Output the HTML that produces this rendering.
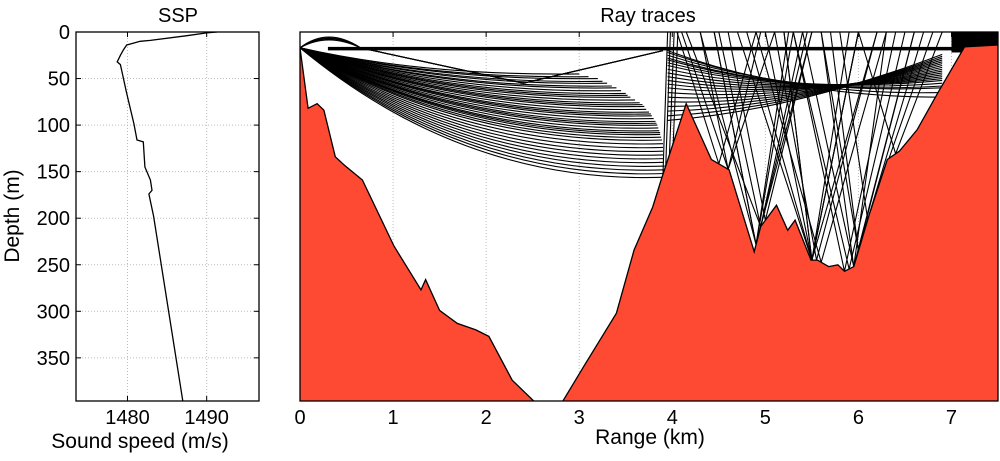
<!DOCTYPE html>
<html><head><meta charset="utf-8">
<style>
body{margin:0;background:#fff;overflow:hidden;}
svg{display:block;font-family:"Liberation Sans",Arial,sans-serif;}
</style></head>
<body>
<svg id="fig" width="1000" height="461" viewBox="0 0 1000 461">
<defs>
<clipPath id="clipL"><rect x="76" y="32" width="183" height="369"/></clipPath>
<clipPath id="clipR"><rect x="300" y="32" width="698" height="369"/></clipPath>
</defs>
<g id="left"></g>
<g id="right"></g>
</svg>
<script>
// SSP data
const sspSpeed=[1491.3,1490.0,1487.5,1482.9,1481.6,1479.9,1479.5,1479.1,1478.7,1479.1,1479.9,1480.8,1481.2,1482.0,1482.2,1482.9,1483.1,1482.7,1483.3,1487.0];
const sspDepth=[0,1,4,9,10,14,19,25,32,35,66,98,116,118,145,159,170,174,198,397];
const sspXTicks=[1480,1490];
const depthTicks=[0,50,100,150,200,250,300,350];
// bathymetry
const bathRange=[0,0.087,0.184,0.257,0.379,0.476,0.67,1.01,1.30,1.35,1.50,1.69,1.89,2.03,2.28,2.57,2.79,3.05,3.40,3.59,3.79,3.88,4.15,4.42,4.61,4.88,4.95,5.12,5.24,5.32,5.49,5.56,5.68,5.78,5.85,5.95,6.12,6.31,6.44,6.63,6.85,7.14,7.5];
const bathDepth=[17,82,77,84,134,143,159,230,277,266,299,313,320,327,374,402,402,359,302,234,188,159,77,137,148,236,209,186,213,202,245,245,252,250,257,252,195,137,128,105,66,16,14];
const rangeTicks=[0,1,2,3,4,5,6,7];
// ray fan end depths (m) at wall near 3.9 km
const fanEnd=[45,48,50,53,55,58,60,63,66,68,70,73,76,78,80,83,86,88,90,93,96,98,100,103,106,108,110,113,116,120,124,128,132,136,140,144,148,152,156];
const fanEndRange=[3.0,3.1,3.2,3.25,3.3,3.35,3.4,3.45,3.5,3.52,3.55,3.6,3.65,3.68,3.7,3.72,3.75,3.77,3.78,3.8,3.82,3.83,3.84,3.85,3.86,3.87,3.87,3.88,3.89,3.9,3.9,3.9,3.9,3.91,3.91,3.92,3.92,3.93,3.93];
// bouncing rays: turning ranges alternating surface / bottom (km)
const bounceRays=[[4.05,4.5,4.9],[4.1,4.6,5.1],[4.15,4.95,5.4],[4.3,4.9,5.3],[4.5,4.95,5.45],[4.6,5.0,5.5],[4.7,5.5,6.0],[4.8,5.5,6.2],[5.0,5.5,6.0],[5.1,5.55,6.2],[5.2,5.5,5.9],[5.3,5.9,6.5],[5.4,5.95,6.6],[5.6,5.95,6.3],[5.7,6.0,6.7],[5.8,6.1,6.8],[4.95,4.6,4.3],[5.25,4.9,4.45],[6.0,5.5,5.2],[6.4,5.85,5.3],[6.6,6.0,5.6],[6.9,6.4,6.0],[4.9,5.6,6.3],[4.45,4.9,5.5]];
// upper band rays: start depth at 4 km, end depth at 6.9 km
const bandStart=[20,22,25,28,30,33,36,40,44,48,52,56,60,65,70,75,80,85,90,95];
const bandEnd=[70,65,60,58,55,52,50,48,46,44,42,40,38,36,34,32,30,28,26,24];

const NS='http://www.w3.org/2000/svg';
function mk(parent,tag,attrs){const e=document.createElementNS(NS,tag);for(const k in attrs)e.setAttribute(k,attrs[k]);parent.appendChild(e);return e;}
const L=document.getElementById('left'),R=document.getElementById('right');
const xL=v=>76+(v-1473.5)*7.92;
const yD=d=>32+d*0.931;
const xR=k=>300+k*93.07;

for(const t of sspXTicks){const g=mk(L,'line',{x1:xL(t),x2:xL(t),y1:32,y2:401,stroke:'#bbb','stroke-dasharray':'1,2'});
}
for(const t of depthTicks){if(t===0)continue;const g=mk(L,'line',{x1:76,x2:259,y1:yD(t),y2:yD(t),stroke:'#bbb','stroke-dasharray':'1,2'});
}
let pts=sspSpeed.map((s,i)=>xL(s).toFixed(1)+','+yD(sspDepth[i]).toFixed(1)).join(' ');
const prof=mk(L,'polyline',{points:pts,fill:'none',stroke:'#000','stroke-width':1.3,'clip-path':'url(#clipL)'});

const bl=mk(L,'rect',{x:76,y:32,width:183,height:369,fill:'none',stroke:'#000','stroke-width':1.3});

for(const t of depthTicks){
 mk(L,'line',{x1:76,x2:81,y1:yD(t),y2:yD(t),stroke:'#000'});mk(L,'line',{x1:254,x2:259,y1:yD(t),y2:yD(t),stroke:'#000'});
 const tx=mk(L,'text',{x:70,y:yD(t)+7,'text-anchor':'end','font-size':20});tx.textContent=t;
 }
for(const t of sspXTicks){
 mk(L,'line',{x1:xL(t),x2:xL(t),y1:401,y2:396,stroke:'#000'});mk(L,'line',{x1:xL(t),x2:xL(t),y1:32,y2:37,stroke:'#000'});
 const tx=mk(L,'text',{x:xL(t),y:424,'text-anchor':'middle','font-size':20});tx.textContent=t;
 }
let t1=mk(L,'text',{x:178,y:22,'text-anchor':'middle','font-size':20});t1.textContent='SSP';

let t2=mk(L,'text',{x:140,y:448,'text-anchor':'middle','font-size':21});t2.textContent='Sound speed (m/s)';

let t3=mk(L,'text',{x:0,y:0,'text-anchor':'middle','font-size':21,transform:'translate(19,216) rotate(-90)'});t3.textContent='Depth (m)';


for(const t of rangeTicks){if(t===0)continue;const g=mk(R,'line',{x1:xR(t),x2:xR(t),y1:32,y2:401,stroke:'#bbb','stroke-dasharray':'1,2'});
}
function bathAt(k){for(let i=1;i<bathRange.length;i++){if(k<=bathRange[i]){const f=(k-bathRange[i-1])/(bathRange[i]-bathRange[i-1]);return bathDepth[i-1]+f*(bathDepth[i]-bathDepth[i-1]);}}return bathDepth[bathDepth.length-1];}
const rays=mk(R,'g',{'clip-path':'url(#clipR)',stroke:'#000',fill:'none','stroke-width':1.1});

fanEnd.forEach((d,i)=>{const k=fanEndRange[i];
 const p=mk(rays,'path',{d:`M${xR(0)},${yD(17)} Q${xR(k*0.45)},${yD(d*1.05)} ${xR(k)},${yD(d)}`});
 });
[8,10,12,14].forEach(d=>{const p=mk(rays,'path',{d:`M${xR(0)},${yD(17)} Q${xR(0.3)},${yD(d-14)} ${xR(0.65)},${yD(17)} L${xR(2.4)},${yD(55)} L${xR(3.9)},${yD(20)}`});
 });
const duct=mk(rays,'rect',{x:xR(0.3),y:yD(16),width:xR(7.5)-xR(0.3),height:3.5,fill:'#000',stroke:'none'});

const tr=mk(rays,'rect',{x:xR(7.0),y:yD(0),width:xR(7.5)-xR(7.0),height:yD(22)-yD(0),fill:'#000',stroke:'none'});

bandStart.forEach((d,i)=>{const p=mk(rays,'path',{d:`M${xR(3.95)},${yD(d)} Q${xR(5.3)},${yD((d+bandEnd[i])/2+25)} ${xR(6.9)},${yD(bandEnd[i])}`});
 });
bounceRays.forEach(r=>{let d='';r.forEach((k,j)=>{const dep=j%2===0?0:bathAt(k);d+=(j?'L':'M')+xR(k)+','+yD(dep)+' ';});
 const p=mk(rays,'path',{d:d});});
[3.95,3.98,4.02,4.06].forEach(k=>{const p=mk(rays,'line',{x1:xR(k),y1:yD(0),x2:xR(k-0.05),y2:yD(bathAt(k-0.05))});
 });
let bp=`M${xR(bathRange[0])},${yD(bathDepth[0])} `+bathRange.map((k,i)=>`L${xR(k).toFixed(1)},${yD(bathDepth[i]).toFixed(1)}`).join(' ');
const sea=mk(R,'path',{d:bp+` L${xR(7.5)},450 L${xR(0)},450 Z`,fill:'#ff4a33',stroke:'none','clip-path':'url(#clipR)'});

const seaLine=mk(R,'path',{d:bp,fill:'none',stroke:'#000','stroke-width':1.3,'clip-path':'url(#clipR)'});

const br=mk(R,'rect',{x:300,y:32,width:698,height:369,fill:'none',stroke:'#000','stroke-width':1.3});

for(const t of rangeTicks){
 mk(R,'line',{x1:xR(t),x2:xR(t),y1:32,y2:37,stroke:'#000'});
 const tx=mk(R,'text',{x:xR(t),y:424,'text-anchor':'middle','font-size':20});tx.textContent=t;
 }
let t4=mk(R,'text',{x:648,y:22,'text-anchor':'middle','font-size':20});t4.textContent='Ray traces';

let t5=mk(R,'text',{x:650,y:444,'text-anchor':'middle','font-size':21});t5.textContent='Range (km)';

</script>
</body></html>
